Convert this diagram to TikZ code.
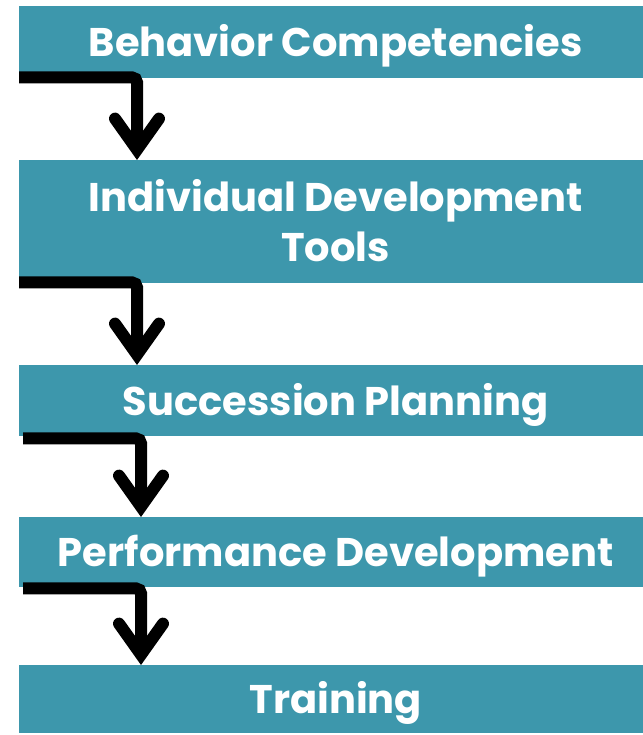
\documentclass[tikz,border=0pt]{standalone}
\usepackage{fontspec}
\setmainfont{Poppins}
\usetikzlibrary{arrows.meta,positioning}

\definecolor{stepteal}{RGB}{61,151,172}

\begin{document}
\begin{tikzpicture}[x=1pt,y=-1pt,
    stage/.style={fill=stepteal,text=white,inner sep=0pt,minimum width=633pt,
                  align=center,text height=29pt,text depth=-1.5pt,
                  font=\bfseries\fontsize{40}{50}\selectfont},
    flow/.style={line width=12pt,rounded corners=5pt,
                 -{Straight Barb[length=31pt,width=44pt,line cap=round,line join=miter]}}]
% page frame
  \useasboundingbox (0,0) rectangle (642,735);

% stages
  \node[stage,minimum height=72pt,anchor=north west]  (beh)  at (19,6)   {Behavior Competencies};
  \node[stage,minimum height=123pt,text height=79.5pt,anchor=north west] (idt)  at (19,160) {Individual Development\\Tools};
  \node[stage,minimum height=71pt,anchor=north west]  (succ) at (19,365) {Succession Planning};
  \node[stage,minimum height=70pt,anchor=north west]  (perf) at (19,517) {Performance Development};
  \node[stage,minimum height=68pt,anchor=north west]  (trn)  at (19,665) {Training};

% arrows between stages
  \draw[flow] ([yshift=1pt]beh.south west) -| ([xshift=118pt]idt.north west);
  \draw[flow] ([yshift=1pt]idt.south west) -| ([xshift=118pt]succ.north west);
  \draw[flow] ([xshift=4pt,yshift=-2pt]succ.south west) -| ([xshift=122pt]perf.north west);
  \draw[flow] ([xshift=4pt,yshift=-1pt]perf.south west) -| ([xshift=122pt]trn.north west);

\end{tikzpicture}
\end{document}
